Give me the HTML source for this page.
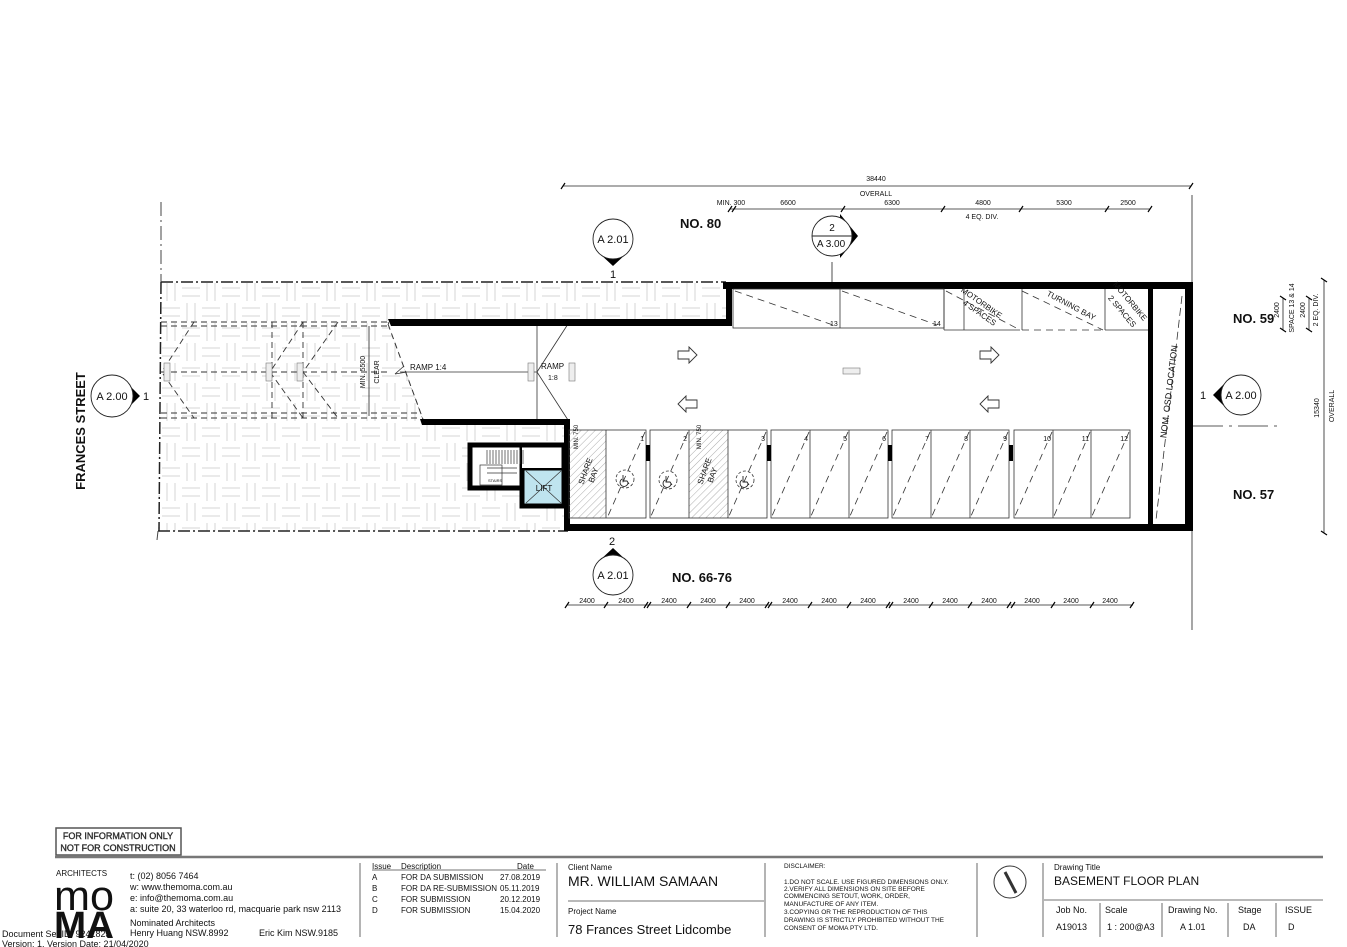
<!DOCTYPE html>
<html><head><meta charset="utf-8"><style>
html,body{margin:0;padding:0;background:#fff}
svg{display:block}
text{font-family:"Liberation Sans",sans-serif;fill:#111}
</style></head><body>
<svg width="1347" height="947" viewBox="0 0 1347 947" xmlns="http://www.w3.org/2000/svg">
<defs>
<pattern id="pave" width="40" height="40" patternUnits="userSpaceOnUse" x="161" y="282">
<g stroke="#d4d4d4" stroke-width="1" fill="none">
<line x1="6" y1="1" x2="6" y2="19"/><line x1="14" y1="1" x2="14" y2="19"/>
<line x1="21" y1="6" x2="39" y2="6"/><line x1="21" y1="14" x2="39" y2="14"/>
<line x1="1" y1="26" x2="19" y2="26"/><line x1="1" y1="34" x2="19" y2="34"/>
<line x1="26" y1="21" x2="26" y2="39"/><line x1="34" y1="21" x2="34" y2="39"/>
</g></pattern>
<pattern id="hatch" width="5" height="5" patternUnits="userSpaceOnUse" patternTransform="rotate(45)">
<line x1="0" y1="0" x2="0" y2="5" stroke="#999" stroke-width="0.8"/></pattern>
</defs>

<path d="M161 282 H726 V322 H388 L424 422 H568 V531 H158 Z" fill="url(#pave)"/>
<g stroke="#222" stroke-width="1.5" fill="none" stroke-dasharray="12,3,2,3">
<line x1="161" y1="282" x2="726" y2="282"/>
<line x1="158" y1="531" x2="568" y2="531"/>
<line x1="161" y1="282" x2="159" y2="531"/>
</g>
<line x1="161" y1="202" x2="161" y2="282" stroke="#444" stroke-dasharray="14,4,2,4"/>
<line x1="158" y1="531" x2="157" y2="540" stroke="#444"/>

<g stroke="#333" stroke-width="0.9" fill="none" stroke-dasharray="6,4">
<line x1="161" y1="322" x2="388" y2="322"/><line x1="161" y1="326" x2="388" y2="326"/>
<line x1="161" y1="413" x2="420" y2="413"/><line x1="161" y1="418" x2="420" y2="418"/>
<line x1="161" y1="372" x2="388" y2="372"/>
<line x1="272" y1="322" x2="272" y2="418"/><line x1="303" y1="322" x2="303" y2="418"/>
<line x1="194" y1="322" x2="163" y2="370"/><line x1="163" y1="374" x2="194" y2="418"/>
<line x1="303" y1="322" x2="270" y2="372"/><line x1="270" y1="372" x2="303" y2="418"/>
<line x1="338" y1="322" x2="303" y2="372"/><line x1="303" y1="372" x2="338" y2="418"/>
<line x1="388" y1="322" x2="424" y2="422"/>
</g>
<line x1="369" y1="326" x2="369" y2="416" stroke="#222" stroke-width="0.8"/>
<text x="365" y="372" font-size="7" transform="rotate(-90 365 372)" text-anchor="middle">MIN. 5500</text>
<text x="379" y="372" font-size="7" transform="rotate(-90 379 372)" text-anchor="middle">CLEAR</text>

<path d="M388 324 H537 V422 H424 Z" fill="#fff"/>
<path d="M537 324 H568 V422 H537 Z" fill="#fff"/>
<g stroke="#333" stroke-width="0.8" fill="none">
<line x1="537" y1="324" x2="537" y2="422"/>
<line x1="400" y1="372" x2="537" y2="372"/>
<line x1="568" y1="324" x2="537" y2="372"/><line x1="537" y1="372" x2="568" y2="420"/>
<line x1="395" y1="374" x2="404" y2="366"/><line x1="395" y1="374" x2="407" y2="372"/>
</g>
<line x1="388" y1="324" x2="424" y2="422" stroke="#333" stroke-dasharray="6,4"/>
<text x="410" y="370" font-size="8">RAMP 1:4</text>
<text x="541" y="369" font-size="8">RAMP</text>
<text x="548" y="380" font-size="7">1:8</text>
<g fill="#eee" stroke="#777" stroke-width="0.6">
<rect x="164" y="363" width="6" height="18"/><rect x="266" y="363" width="6" height="18"/><rect x="297" y="363" width="6" height="18"/>
<rect x="528" y="363" width="6" height="18"/><rect x="569" y="363" width="6" height="18"/>
<rect x="843" y="368" width="17" height="6"/>
</g>

<g fill="#000">
<rect x="723" y="282" width="470" height="7"/>
<rect x="1185" y="282" width="8" height="249"/>
<rect x="565" y="524" width="628" height="7"/>
<rect x="1148" y="289" width="5" height="235"/>
<polygon points="388,319 726,319 726,282 732,282 732,326 391,326"/>
<polygon points="420,419 570,419 570,531 564,531 564,425 422,425"/>
</g>
<line x1="1182" y1="296" x2="1156" y2="520" stroke="#333" stroke-width="0.8" stroke-dasharray="8,4"/>
<text x="1172" y="392" font-size="9" transform="rotate(-83 1172 392)" text-anchor="middle">NOM. OSD LOCATION</text>

<rect x="470" y="445" width="52" height="43" fill="#fff" stroke="#000" stroke-width="5"/>
<rect x="522" y="468" width="42" height="38" fill="#bfe4ef" stroke="#000" stroke-width="5"/>
<rect x="522" y="445" width="42" height="23" fill="#fff"/>
<polyline points="470,445 564,445 564,468" fill="none" stroke="#000" stroke-width="5"/>
<g stroke="#333" stroke-width="0.7">
<line x1="526" y1="471" x2="561" y2="503"/><line x1="561" y1="471" x2="526" y2="503"/>
<path d="M487 450 v14 M490 450 v14 M493 450 v14 M496 450 v14 M499 450 v14 M502 450 v14 M505 450 v14 M508 450 v14 M511 450 v14 M514 450 v14 M517 450 v14 M520 450 v14 M523 450 v14" />
<path d="M487 468 h30 M487 473 h30" fill="none"/>
<rect x="480" y="465" width="22" height="20" fill="none"/>
</g>
<text x="544" y="491" font-size="8" text-anchor="middle">LIFT</text>
<text x="488" y="482" font-size="4">STAIRS</text>

<rect x="569" y="430" width="37" height="88" fill="url(#hatch)"/>
<rect x="689" y="430" width="39" height="88" fill="url(#hatch)"/>
<g stroke="#333" stroke-width="0.8" fill="none">
<rect x="569" y="430" width="77" height="88"/><line x1="606" y1="430" x2="606" y2="518"/>
<rect x="650" y="430" width="117" height="88"/><line x1="689" y1="430" x2="689" y2="518"/><line x1="728" y1="430" x2="728" y2="518"/>
<rect x="771" y="430" width="117" height="88"/><line x1="810" y1="430" x2="810" y2="518"/><line x1="849" y1="430" x2="849" y2="518"/>
<rect x="892" y="430" width="117" height="88"/><line x1="931" y1="430" x2="931" y2="518"/><line x1="970" y1="430" x2="970" y2="518"/>
<rect x="1014" y="430" width="116" height="88"/><line x1="1053" y1="430" x2="1053" y2="518"/><line x1="1091" y1="430" x2="1091" y2="518"/>
</g>
<g stroke="#333" stroke-width="0.8" stroke-dasharray="7,5">
<line x1="645" y1="432" x2="608" y2="516"/><line x1="688" y1="432" x2="651" y2="516"/><line x1="766" y1="432" x2="729" y2="516"/>
<line x1="809" y1="432" x2="772" y2="516"/><line x1="848" y1="432" x2="811" y2="516"/><line x1="887" y1="432" x2="850" y2="516"/>
<line x1="930" y1="432" x2="893" y2="516"/><line x1="969" y1="432" x2="932" y2="516"/><line x1="1008" y1="432" x2="971" y2="516"/>
<line x1="1052" y1="432" x2="1015" y2="516"/><line x1="1090" y1="432" x2="1054" y2="516"/><line x1="1129" y1="432" x2="1092" y2="516"/>
</g>
<g fill="#000"><rect x="646" y="445" width="4" height="16"/><rect x="767" y="445" width="4" height="16"/><rect x="888" y="445" width="4" height="16"/><rect x="1009" y="445" width="4" height="16"/></g>
<g font-size="7" text-anchor="end">
<text x="644" y="441">1</text><text x="687" y="441">2</text><text x="765" y="441">3</text><text x="808" y="441">4</text><text x="847" y="441">5</text><text x="886" y="441">6</text>
<text x="929" y="441">7</text><text x="968" y="441">8</text><text x="1007" y="441">9</text><text x="1051" y="441">10</text><text x="1089" y="441">11</text><text x="1128" y="441">12</text>
</g>
<g fill="none" stroke="#333" stroke-width="0.8" stroke-dasharray="3,2">
<circle cx="625" cy="479" r="9"/><circle cx="668" cy="480" r="9"/><circle cx="745" cy="480" r="9"/>
</g>
<g fill="none" stroke="#222" stroke-width="0.9">
<path d="M623 475 v6 h4 l2 3 M622 479 a4 4 0 1 0 6 3"/>
<path d="M666 476 v6 h4 l2 3 M665 480 a4 4 0 1 0 6 3"/>
<path d="M743 476 v6 h4 l2 3 M742 480 a4 4 0 1 0 6 3"/>
</g>
<text x="588" y="472" font-size="8" transform="rotate(-70 588 472)" text-anchor="middle">SHARE</text>
<text x="596" y="476" font-size="8" transform="rotate(-70 596 476)" text-anchor="middle">BAY</text>
<text x="707" y="472" font-size="8" transform="rotate(-70 707 472)" text-anchor="middle">SHARE</text>
<text x="715" y="476" font-size="8" transform="rotate(-70 715 476)" text-anchor="middle">BAY</text>
<text x="578" y="437" font-size="6" transform="rotate(-90 578 437)" text-anchor="middle">MIN. 750</text>
<text x="701" y="437" font-size="6" transform="rotate(-90 701 437)" text-anchor="middle">MIN. 750</text>

<g stroke="#333" stroke-width="0.8" fill="none">
<rect x="733" y="289" width="211" height="39"/><line x1="840" y1="289" x2="840" y2="328"/>
<line x1="944" y1="289" x2="944" y2="330"/><line x1="964" y1="289" x2="964" y2="330"/><line x1="944" y1="330" x2="1020" y2="330"/>
<line x1="1022" y1="289" x2="1022" y2="330"/><line x1="1105" y1="289" x2="1105" y2="330"/><line x1="1148" y1="330" x2="1105" y2="330"/>
</g>
<g stroke="#333" stroke-width="0.8" stroke-dasharray="7,5">
<line x1="735" y1="291" x2="833" y2="325"/><line x1="842" y1="291" x2="937" y2="325"/><line x1="946" y1="291" x2="1020" y2="330"/>
<line x1="1022" y1="291" x2="1103" y2="330"/><line x1="1022" y1="330" x2="1105" y2="330"/>
</g>
<text x="830" y="326" font-size="7">13</text><text x="933" y="326" font-size="7">14</text>
<text x="980" y="305" font-size="8" transform="rotate(35 980 305)" text-anchor="middle">MOTORBIKE</text>
<text x="978" y="315" font-size="8" transform="rotate(35 978 315)" text-anchor="middle">4 SPACES</text>
<text x="1070" y="308" font-size="8" transform="rotate(28 1070 308)" text-anchor="middle">TURNING BAY</text>
<text x="1128" y="303" font-size="8" transform="rotate(50 1128 303)" text-anchor="middle">MOTORBIKE</text>
<text x="1120" y="313" font-size="8" transform="rotate(50 1120 313)" text-anchor="middle">2 SPACES</text>

<g fill="#fff" stroke="#333" stroke-width="0.9">
<polygon points="678,351 689,351 689,347 697,355 689,363 689,359 678,359"/>
<polygon points="980,351 991,351 991,347 999,355 991,363 991,359 980,359"/>
<polygon points="697,400 686,400 686,396 678,404 686,412 686,408 697,408"/>
<polygon points="999,400 988,400 988,396 980,404 988,412 988,408 999,408"/>
</g>

<g stroke="#222" stroke-width="0.8">
<line x1="563" y1="186" x2="1191" y2="186"/>
<line x1="730" y1="209" x2="1150" y2="209"/>
<line x1="1192" y1="195" x2="1192" y2="282"/>
<line x1="1192" y1="531" x2="1192" y2="630"/>
<line x1="832" y1="262" x2="832" y2="282"/>
<line x1="567" y1="605" x2="1133" y2="605"/>
<line x1="1283" y1="298" x2="1283" y2="330"/>
<line x1="1309" y1="298" x2="1309" y2="330"/>
<line x1="1324" y1="280" x2="1324" y2="533"/>
<line x1="1193" y1="426" x2="1280" y2="426" stroke-dasharray="30,6,3,6"/>
</g>
<g stroke="#000" stroke-width="1.2">
<path d="M561 189 l4 -6 M1189 189 l4 -6"/>
<path d="M728 212 l4 -6 M732 212 l4 -6 M841 212 l4 -6 M941 212 l4 -6 M1019 212 l4 -6 M1105 212 l4 -6 M1148 212 l4 -6"/>
<path d="M565 608 l4 -6 M604 608 l4 -6 M644 608 l4 -6 M647 608 l4 -6 M687 608 l4 -6 M726 608 l4 -6 M765 608 l4 -6 M768 608 l4 -6 M808 608 l4 -6 M847 608 l4 -6 M886 608 l4 -6 M889 608 l4 -6 M929 608 l4 -6 M968 608 l4 -6 M1007 608 l4 -6 M1011 608 l4 -6 M1051 608 l4 -6 M1090 608 l4 -6 M1130 608 l4 -6"/>
<path d="M1280 296 l6 4 M1280 328 l6 4 M1306 296 l6 4 M1306 328 l6 4 M1321 278 l6 4 M1321 531 l6 4"/>
</g>
<g font-size="7" text-anchor="middle">
<text x="876" y="181">38440</text><text x="876" y="196">OVERALL</text>
<text x="731" y="205">MIN. 300</text><text x="788" y="205">6600</text><text x="892" y="205">6300</text>
<text x="983" y="205">4800</text><text x="1064" y="205">5300</text><text x="1128" y="205">2500</text>
<text x="982" y="219">4 EQ. DIV.</text>
<text x="587" y="603">2400</text><text x="626" y="603">2400</text><text x="669" y="603">2400</text><text x="708" y="603">2400</text><text x="747" y="603">2400</text>
<text x="790" y="603">2400</text><text x="829" y="603">2400</text><text x="868" y="603">2400</text><text x="911" y="603">2400</text><text x="950" y="603">2400</text>
<text x="989" y="603">2400</text><text x="1032" y="603">2400</text><text x="1071" y="603">2400</text><text x="1110" y="603">2400</text>
<text transform="translate(1279 310) rotate(-90)">2400</text>
<text transform="translate(1294 308) rotate(-90)">SPACE 13 &amp; 14</text>
<text transform="translate(1305 310) rotate(-90)">2400</text>
<text transform="translate(1318 310) rotate(-90)">2 EQ. DIV.</text>
<text transform="translate(1319 408) rotate(-90)">15340</text>
<text transform="translate(1334 406) rotate(-90)">OVERALL</text>
</g>

<g fill="#000">
<polygon points="599,253 627,253 613,266"/>
<polygon points="599,561 627,561 613,548"/>
<polygon points="126,382 126,410 140,396"/>
<polygon points="1227,381 1227,409 1213,395"/>
<polygon points="840,214 858,236 840,258"/>
</g>
<g fill="#fff" stroke="#222" stroke-width="0.9">
<circle cx="613" cy="239" r="20"/>
<circle cx="613" cy="575" r="20"/>
<circle cx="112" cy="396" r="21"/>
<circle cx="1241" cy="395" r="20"/>
<circle cx="832" cy="236" r="20"/>
</g>
<line x1="812" y1="236" x2="852" y2="236" stroke="#222" stroke-width="0.9"/>
<g font-size="11" text-anchor="middle">
<text x="613" y="243">A 2.01</text><text x="613" y="579">A 2.01</text>
<text x="112" y="400">A 2.00</text><text x="1241" y="399">A 2.00</text>
<text x="832" y="231" font-size="10">2</text><text x="831" y="247" font-size="10">A 3.00</text>
<text x="613" y="278">1</text><text x="612" y="545">2</text>
<text x="146" y="400">1</text><text x="1203" y="399">1</text>
</g>

<g font-size="13" font-weight="bold">
<text x="680" y="228">NO. 80</text>
<text x="1233" y="323">NO. 59</text>
<text x="1233" y="499">NO. 57</text>
<text x="672" y="582">NO. 66-76</text>
<text transform="translate(85 431) rotate(-90)" text-anchor="middle">FRANCES STREET</text>
</g>

<rect x="56" y="828" width="125" height="27" fill="#fff" stroke="#555" stroke-width="1.5"/>
<text x="118" y="839" font-size="9" text-anchor="middle" fill="#fff" stroke="#444" stroke-width="0.4" font-family="Liberation Mono, monospace">FOR INFORMATION ONLY</text>
<text x="118" y="851" font-size="9" text-anchor="middle" fill="#fff" stroke="#444" stroke-width="0.4" font-family="Liberation Mono, monospace">NOT FOR CONSTRUCTION</text>
<line x1="55" y1="857" x2="1323" y2="857" stroke="#777" stroke-width="2.5"/>
<g stroke="#444" stroke-width="0.8">
<line x1="360" y1="863" x2="360" y2="937"/><line x1="557" y1="863" x2="557" y2="937"/>
<line x1="765" y1="863" x2="765" y2="937"/><line x1="977" y1="863" x2="977" y2="937"/>
<line x1="1043" y1="863" x2="1043" y2="937"/>
<line x1="568" y1="901" x2="764" y2="901"/>
<line x1="1044" y1="900" x2="1323" y2="900"/>
<line x1="1100" y1="903" x2="1100" y2="937"/><line x1="1162" y1="903" x2="1162" y2="937"/>
<line x1="1228" y1="903" x2="1228" y2="937"/><line x1="1276" y1="903" x2="1276" y2="937"/>
<line x1="372" y1="870" x2="546" y2="870"/>
</g>
<text x="56" y="876" font-size="8" fill="#888">ARCHITECTS</text>
<text x="54" y="910" font-size="42" textLength="60" lengthAdjust="spacingAndGlyphs">mo</text>
<text x="54" y="938" font-size="38" font-weight="bold" textLength="60" lengthAdjust="spacingAndGlyphs">MA</text>
<g font-size="9">
<text x="130" y="879">t:  (02) 8056 7464</text>
<text x="130" y="890">w:  www.themoma.com.au</text>
<text x="130" y="901">e:  info@themoma.com.au</text>
<text x="130" y="912">a:  suite 20, 33 waterloo rd, macquarie park nsw 2113</text>
<text x="130" y="926">Nominated Architects</text>
<text x="130" y="936">Henry Huang  NSW.8992</text>
<text x="259" y="936">Eric Kim  NSW.9185</text>
<text x="2" y="937">Document Set ID: 9241823</text>
<text x="2" y="947">Version: 1, Version Date: 21/04/2020</text>
</g>
<g font-size="8">
<text x="372" y="869">Issue</text><text x="401" y="869">Description</text><text x="517" y="869">Date</text>
<text x="372" y="880">A</text><text x="401" y="880">FOR DA SUBMISSION</text><text x="500" y="880">27.08.2019</text>
<text x="372" y="891">B</text><text x="401" y="891">FOR DA RE-SUBMISSION</text><text x="500" y="891">05.11.2019</text>
<text x="372" y="902">C</text><text x="401" y="902">FOR SUBMISSION</text><text x="500" y="902">20.12.2019</text>
<text x="372" y="913">D</text><text x="401" y="913">FOR SUBMISSION</text><text x="500" y="913">15.04.2020</text>
<text x="568" y="870">Client Name</text>
<text x="568" y="914">Project Name</text>
<text x="1054" y="870">Drawing Title</text>
</g>
<text x="568" y="886" font-size="14">MR. WILLIAM SAMAAN</text>
<text x="568" y="934" font-size="13">78 Frances Street Lidcombe</text>
<text x="1054" y="885" font-size="12">BASEMENT FLOOR PLAN</text>
<g font-size="6.5">
<text x="784" y="868">DISCLAIMER:</text>
<text x="784" y="884">1.DO NOT SCALE. USE FIGURED DIMENSIONS ONLY.</text>
<text x="784" y="891">2.VERIFY ALL DIMENSIONS ON SITE BEFORE</text>
<text x="784" y="898">COMMENCING SETOUT, WORK, ORDER,</text>
<text x="784" y="906">MANUFACTURE OF ANY ITEM.</text>
<text x="784" y="914">3.COPYING OR THE REPRODUCTION OF THIS</text>
<text x="784" y="922">DRAWING IS STRICTLY PROHIBITED WITHOUT THE</text>
<text x="784" y="930">CONSENT OF MOMA PTY LTD.</text>
</g>
<circle cx="1010" cy="882" r="16" fill="none" stroke="#333"/>
<line x1="1005" y1="872" x2="1016" y2="893" stroke="#333" stroke-width="3"/>
<g font-size="9">
<text x="1056" y="913">Job No.</text><text x="1105" y="913">Scale</text><text x="1168" y="913">Drawing No.</text><text x="1238" y="913">Stage</text><text x="1285" y="913">ISSUE</text>
<text x="1056" y="930">A19013</text><text x="1107" y="930">1 : 200@A3</text><text x="1180" y="930">A 1.01</text><text x="1243" y="930">DA</text><text x="1288" y="930">D</text>
</g>
</svg>
</body></html>
